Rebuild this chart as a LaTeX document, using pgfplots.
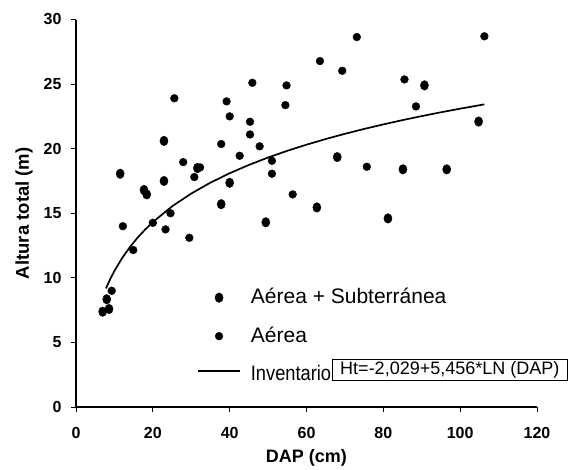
\documentclass[border=0pt]{standalone}
\usepackage{pgfplots}
\pgfplotsset{compat=1.18}
\usepackage{fontspec}
\setmainfont{Liberation Sans}
\pgfplotsset{
  dotlegend/.style={legend image code/.code={\draw[mark repeat=2, mark phase=2, ##1] plot coordinates {(0pt,1pt)(21pt,1pt)(42pt,1pt)};}},
  linelegend/.style={legend image code/.code={\draw[##1, line width=1.7pt] (0pt,5pt) -- (42pt,5pt);}},
}
\begin{document}
\begin{tikzpicture}
\useasboundingbox (-76pt,-62pt) rectangle (493pt,407pt);
\begin{axis}[
  scale only axis,
  width=461pt, height=387.5pt,
  xmin=0, xmax=120, ymin=0, ymax=30,
  axis lines=left,
  axis line style={-, line width=1.1pt},
  xtick={0,20,...,120}, ytick={0,5,...,30},
  tick align=outside,
  major tick length=5pt,
  tick style={line width=0.9pt, black},
  /pgf/number format/assume math mode=true,
  ticklabel style={font=\bfseries\fontsize{16}{16}\selectfont},
  xticklabel style={yshift=-12pt},
  yticklabel style={xshift=-6pt},
  xlabel={DAP (cm)},
  ylabel={Altura total (m)},
  xlabel style={font=\bfseries\fontsize{18}{18}\selectfont, at={(axis description cs:0.5,-0.1316)}, anchor=center},
  ylabel style={font=\bfseries\fontsize{18.5}{18.5}\selectfont, at={(axis description cs:-0.1128,0.5)}, anchor=center},
  clip=false,
  legend style={at={(axis cs:31.5,9.1)}, anchor=north west, draw=none, fill=none,
    inner sep=0pt, row sep=20.5pt, column sep=10pt,
    font=\fontsize{21}{21}\selectfont,
    nodes={inner sep=0pt, text height=14pt, text depth=4pt}},
  legend cell align=left,
]
\addplot[only marks, mark=*, mark size=4.8pt, mark options={xscale=0.85, fill=black, draw=black}, dotlegend]
coordinates {
(6.95,7.38) (8.6,7.59) (8.0,8.34) (11.5,18.06) (17.7,16.8) (18.4,16.46)
(22.9,20.6) (22.9,17.5) (31.6,18.5) (37.8,15.7) (40.0,17.36) (49.4,14.3)
(62.7,15.45) (68.0,19.35) (81.2,14.6) (85.1,18.4) (96.5,18.4) (90.7,24.9)
(104.8,22.1)
};
\addlegendentry{Aérea + Subterránea}
\addplot[only marks, mark=*, mark size=3.9pt, mark options={fill=black, draw=black}, dotlegend]
coordinates {
(9.3,9.0) (12.2,14.0) (14.9,12.15) (20.0,14.26) (23.3,13.75) (24.6,15.0)
(29.5,13.1) (25.6,23.9) (27.9,18.96) (30.8,17.8) (37.8,20.36) (39.2,23.66)
(40.0,22.5) (42.6,19.45) (45.3,22.08) (45.3,21.1) (45.9,25.1) (47.8,20.18)
(51.0,19.06) (51.0,18.06) (54.5,23.37) (54.8,24.9) (56.4,16.46) (63.5,26.78)
(73.1,28.64) (69.3,26.03) (85.5,25.36) (88.5,23.27) (106.3,28.7) (75.7,18.6)
(32.3,18.55)
};
\addlegendentry{Aérea}
\addplot[black, line width=1.7pt, no marks, linelegend]
coordinates {
(7.8,9.18) (9,9.959) (10,10.534) (12,11.528) (14,12.370) (16,13.098) (18,13.741)
(20,14.316) (25,15.533) (30,16.528) (35,17.369) (40,18.098) (45,18.740)
(50,19.315) (55,19.835) (60,20.309) (65,20.746) (70,21.151) (75,21.527)
(80,21.879) (85,22.210) (90,22.522) (95,22.817) (100,23.097) (106.3,23.43)
};
\addlegendentry{\scalebox{0.87}[1]{Inventario}}
\node[draw=black, line width=0.9pt, minimum width=235pt, minimum height=21pt, inner sep=0pt,
  font=\fontsize{18}{18}\selectfont] at (axis cs:97.3,2.9) {Ht=-2,029+5,456*LN (DAP)};
\end{axis}
\end{tikzpicture}
\end{document}
